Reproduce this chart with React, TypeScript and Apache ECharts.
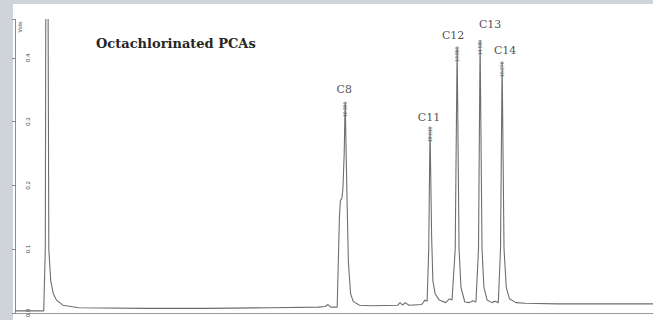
import React, { useEffect, useRef } from "react";
import * as echarts from "echarts";

// Retention time (min) and detector signal (Volts)
const traceTimes = [
  0.0, 0.9, 0.95, 0.97, 1.03, 1.06, 1.12, 1.2, 1.3, 1.5, 2.0, 4.0, 6.0, 8.0, 9.5,
  9.72, 9.81, 9.9, 10.1, 10.17, 10.2, 10.25, 10.28, 10.32, 10.35, 10.4, 10.45, 10.52, 10.6, 10.8,
  11.2, 12.0, 12.07, 12.15, 12.23, 12.35, 12.75, 12.85, 12.92, 12.97, 13.01, 13.06, 13.1, 13.17,
  13.3, 13.5, 13.62, 13.7, 13.8, 13.86, 13.92, 13.98, 14.1, 14.25, 14.35, 14.45, 14.53, 14.58,
  14.64, 14.7, 14.8, 14.95, 15.05, 15.15, 15.22, 15.27, 15.33, 15.4, 15.5, 15.7, 16.0, 17.0, 18.5, 20.0,
];
const traceVolts = [
  0.003, 0.003, 0.1, 0.6, 0.6, 0.1, 0.05, 0.03, 0.02, 0.012, 0.008, 0.007, 0.007, 0.008, 0.009,
  0.01, 0.013, 0.009, 0.009, 0.15, 0.176, 0.18, 0.195, 0.25, 0.331, 0.2, 0.08, 0.03, 0.018, 0.012,
  0.011, 0.012, 0.016, 0.012, 0.016, 0.012, 0.013, 0.02, 0.018, 0.1, 0.292, 0.12, 0.05, 0.03,
  0.02, 0.016, 0.022, 0.02, 0.1, 0.4175, 0.1, 0.04, 0.017, 0.016, 0.019, 0.017, 0.1, 0.428,
  0.1, 0.04, 0.02, 0.016, 0.018, 0.016, 0.1, 0.394, 0.1, 0.04, 0.022, 0.016, 0.015, 0.014, 0.014, 0.014,
];

const peakNames = ["C8", "C11", "C12", "C13", "C14"];
const peakTimes = [10.35, 13.01, 13.86, 14.58, 15.27];
const peakVolts = [0.331, 0.292, 0.4175, 0.428, 0.394];

const yTicks = [0, 0.1, 0.2, 0.3, 0.4];
const titleText = "Octachlorinated PCAs";
const yAxisName = "Volts";

// label placement (style only)
const peakLabelOffsets = [
  [-1, -1],
  [-1, 2],
  [-4, 0],
  [10, -4],
  [3, 0],
];

export default function App() {
  const ref = useRef<HTMLDivElement>(null);

  useEffect(() => {
    if (!ref.current) return;
    const chart = echarts.init(ref.current, null, { renderer: "svg" });
    const trace = traceTimes.map((t, i) => [t, traceVolts[i]]);
    const peaks = peakTimes.map((t, i) => ({
      value: [t, peakVolts[i]],
      name: peakNames[i],
      label: { offset: peakLabelOffsets[i] },
    }));
    const rtMarks = peakTimes.map((t, i) => ({
      value: [t, peakVolts[i]],
      name: t.toFixed(3),
    }));

    chart.setOption({
      animation: false,
      backgroundColor: "#cfd3da",
      grid: { left: 15, right: 0, top: 19.5, bottom: 3 },
      graphic: [
        {
          type: "rect",
          z: -10,
          shape: { x: 13, y: 4, width: 660, height: 330 },
          style: { fill: "#ffffff" },
        },
        {
          type: "text",
          x: 96,
          y: 43,
          style: {
            text: titleText,
            font: "bold 13px 'DejaVu Serif', 'Liberation Serif', serif",
            fill: "#262626",
            verticalAlign: "middle",
            align: "left",
          },
        },
        {
          type: "text",
          x: 20,
          y: 27,
          rotation: Math.PI / 2,
          style: {
            text: yAxisName,
            font: "5px 'Liberation Sans', sans-serif",
            fill: "#444",
            align: "center",
            verticalAlign: "middle",
          },
        },
      ],
      xAxis: {
        type: "value",
        min: 0,
        max: 20,
        axisLine: { show: true, onZero: false, lineStyle: { color: "#9a9a9a", width: 1 } },
        axisTick: { show: false },
        axisLabel: { show: false },
        splitLine: { show: false },
      },
      yAxis: {
        type: "value",
        min: 0,
        max: 0.46,
        interval: 0.1,
        axisLine: { show: true, lineStyle: { color: "#8a8a8a", width: 1 } },
        axisTick: { show: true, inside: false, length: 3, lineStyle: { color: "#8a8a8a" } },
        axisLabel: {
          show: true,
          inside: true,
          rotate: 90,
          margin: 10,
          fontSize: 6,
          color: "#444",
          fontFamily: "'Liberation Sans', sans-serif",
          formatter: (v: number) => {
            const found = yTicks.find((t) => Math.abs(t - v) < 1e-6);
            return found === undefined ? "" : found.toFixed(1);
          },
        },
        splitLine: { show: false },
      },
      series: [
        {
          type: "line",
          data: trace,
          showSymbol: false,
          symbol: "none",
          clip: true,
          lineStyle: { color: "#6e6e6e", width: 1.1 },
          z: 3,
        },
        {
          type: "scatter",
          data: peaks,
          symbolSize: 0,
          z: 4,
          label: {
            show: true,
            position: "top",
            distance: 6,
            formatter: (p: any) => p.name,
            fontFamily: "'DejaVu Serif', 'Liberation Serif', serif",
            fontSize: 11,
            color: "#1a1a1a",
          },
        },
        {
          type: "scatter",
          data: rtMarks,
          symbolSize: 0,
          z: 4,
          label: {
            show: true,
            position: [0, 0],
            rotate: 90,
            align: "right",
            verticalAlign: "middle",
            formatter: (p: any) => p.name,
            fontFamily: "'Liberation Sans', sans-serif",
            fontSize: 5,
            color: "#444",
          },
        },
      ],
    });
    return () => chart.dispose();
  }, []);

  return (
    <div
      ref={ref}
      style={{ position: "fixed", left: 0, top: 0, width: 653, height: 320 }}
    />
  );
}
